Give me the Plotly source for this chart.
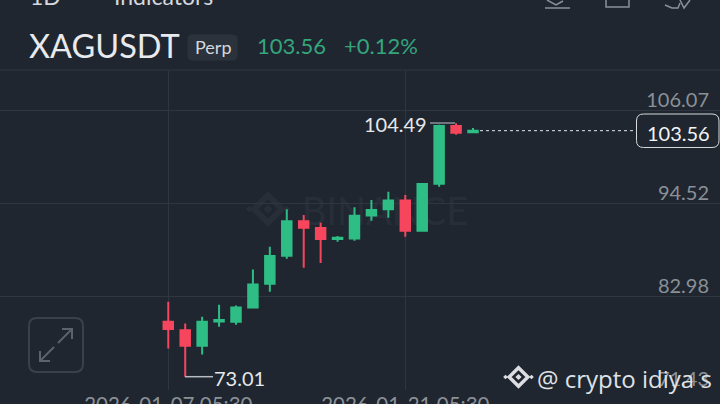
import plotly.graph_objects as go

dates = ["2026-01-%02d 05:30" % d for d in range(7, 26)]
opens = [79.83,78.80,76.85,79.88,79.83,81.62,84.55,88.03,92.31,91.47,90.11,90.19,93.05,93.80,94.91,91.14,96.98,104.14,103.36]
highs = [82.32,79.64,80.46,81.95,81.87,86.34,89.15,93.80,93.09,92.13,90.48,94.05,94.95,95.98,95.57,96.98,104.30,104.49,103.90]
lows = [76.53,73.01,75.78,79.21,79.46,81.50,83.56,87.66,86.54,87.13,89.77,89.90,92.38,92.75,90.39,91.01,96.60,103.06,103.27]
closes = [78.93,76.85,79.83,80.05,81.62,84.48,88.00,92.31,91.51,90.11,90.27,93.00,93.71,94.91,91.14,96.94,104.14,103.31,103.56]
y_ticks = [106.07, 94.52, 82.98, 71.43]
x_ticks = ["2026-01-07 05:30", "2026-01-21 05:30"]
x_tick_labels = ["2026-01-07 05:30", "2026-01-21 05:30"]
symbol = "XAGUSDT"
last_text = "103.56"
change_text = "+0.12%"
high_text = "104.49"
low_text = "73.01"

BG = "#1f2630"; GRID = "#2f363f"; GREEN = "#2ebd85"; RED = "#f6465d"
FONT = "Lato"
T, B = 71, 390

def X(px): return px / 720
def Y(py): return (B - py) / (B - T)

def line(x0, y0, x1, y1, color, width=1, dash="solid"):
    return dict(type="line", xref="paper", yref="paper", x0=X(x0), y0=Y(y0), x1=X(x1), y1=Y(y1),
                line=dict(color=color, width=width, dash=dash), layer="above")

def path(pts, color=None, fill=None, width=1, close=True, layer="above"):
    d = "M " + " L ".join(f"{X(a):.5f},{Y(b):.5f}" for a, b in pts) + (" Z" if close else "")
    return dict(type="path", xref="paper", yref="paper", path=d, line=dict(color=color or "rgba(0,0,0,0)", width=width),
                fillcolor=fill or "rgba(0,0,0,0)", layer=layer)

def rrect(x0, y0, x1, y1, r, color, fill=None, width=1):
    d = (f"M {X(x0+r):.5f},{Y(y0):.5f} L {X(x1-r):.5f},{Y(y0):.5f} Q {X(x1):.5f},{Y(y0):.5f} {X(x1):.5f},{Y(y0+r):.5f} "
         f"L {X(x1):.5f},{Y(y1-r):.5f} Q {X(x1):.5f},{Y(y1):.5f} {X(x1-r):.5f},{Y(y1):.5f} "
         f"L {X(x0+r):.5f},{Y(y1):.5f} Q {X(x0):.5f},{Y(y1):.5f} {X(x0):.5f},{Y(y1-r):.5f} "
         f"L {X(x0):.5f},{Y(y0+r):.5f} Q {X(x0):.5f},{Y(y0):.5f} {X(x0+r):.5f},{Y(y0):.5f} Z")
    return dict(type="path", xref="paper", yref="paper", path=d, line=dict(color=color, width=width),
                fillcolor=fill or "rgba(0,0,0,0)", layer="above")

def diamond(cx, cy, r, **kw):
    return path([(cx, cy - r), (cx + r, cy), (cx, cy + r), (cx - r, cy)], **kw)

def logo(cx, cy, R, color, sw, layer="above"):
    return [
        diamond(cx, cy, R * 0.72, color=color, width=sw, layer=layer),
        diamond(cx, cy, R * 0.24, fill=color, layer=layer),
        diamond(cx - R * 1.0, cy, R * 0.18, fill=color, layer=layer),
        diamond(cx + R * 1.0, cy, R * 0.18, fill=color, layer=layer),
    ]

fig = go.Figure(go.Candlestick(
    x=dates, open=opens, high=highs, low=lows, close=closes,
    increasing=dict(line=dict(color=GREEN, width=2), fillcolor=GREEN),
    decreasing=dict(line=dict(color=RED, width=2), fillcolor=RED),
    whiskerwidth=0, showlegend=False,
))

shapes = [
    line(0, 70, 720, 70, GRID),
    line(430, 123, 455, 123, "#8b9097", 1.5),
    line(185, 376.7, 213, 376.7, "#b8bcc2", 1.5),
    line(480, 130.7, 635, 130.7, "#e4e6e9", 1, "3px,3px"),
    rrect(636.5, 114, 719, 147.5, 7, "#d8dadd", BG, 1),
    rrect(29, 318, 83, 372, 8, "#3a414b", None, 2),
    line(40, 361, 54, 347, "#5d636c", 2), line(58, 343, 72, 329, "#5d636c", 2),
    path([(40, 351), (40, 361), (50, 361)], color="#5d636c", width=2, close=False),
    path([(62, 329), (72, 329), (72, 339)], color="#5d636c", width=2, close=False),
    path([(545, 8), (570, 8)], color="#8c9199", width=1.5, close=False),
    path([(547, 0), (556, 5), (563, 1)], color="#8c9199", width=1.5, close=False),
    path([(606, 0), (606, 7), (629, 7), (629, 0)], color="#8c9199", width=1.5, close=False),
    path([(665, 5), (672, 8), (678, 8), (680, 3)], color="#8c9199", width=1.5, close=False),
    path([(680, 0), (684, 8), (690, 0)], color="#8c9199", width=1.5, close=False),
    rrect(188, 35, 237, 60, 4, "#2b323b", "#2b323b", 1),
    dict(type="rect", xref="paper", yref="paper", x0=X(296), x1=X(474), y0=Y(230), y1=Y(190), layer="below",
         line=dict(width=0), fillcolor="rgba(0,0,0,0)",
         label=dict(text="BINANCE", textposition="middle center", font=dict(family=FONT, size=38, color="#272e38"))),
]
shapes += logo(268, 209, 19, "#272e38", 6, layer="below")
shapes += logo(518.5, 377, 13, "#dcdee1", 3.5)

def text(px, py, s, size, color, anchor="left", family=FONT):
    return dict(xref="paper", yref="paper", x=X(px), y=Y(py), text=s, showarrow=False, xanchor=anchor,
                yanchor="middle", font=dict(family=family, size=size, color=color))

annotations = [
    text(27, 46, symbol, 32.5, "#e8eaed"),
    text(212.5, 47, "Perp", 18, "#d5d8dc", "center"),
    text(255, 45.5, last_text, 22, "#34a57c"),
    text(342, 45.5, change_text, 22, "#34a57c"),
    text(28, -4, "1D", 23, "#d5d8dc"),
    text(112, -4, "Indicators", 23, "#d5d8dc"),
    text(678.5, 132.5, last_text, 20, "#f2f3f4", "center"),
    text(429, 124, high_text, 20, "#e6e8ea", "right"),
    text(212, 378, low_text, 20, "#e6e8ea"),
    text(535, 378, "@ crypto idiya s", 24, "#dfe1e4", family="Open Sans"),
]

fig.update_layout(
    width=720, height=404, margin=dict(l=0, r=0, t=T, b=404 - B),
    paper_bgcolor=BG, plot_bgcolor=BG, showlegend=False, boxgap=0.2,
    shapes=shapes, annotations=annotations, font=dict(family=FONT),
    xaxis=dict(type="date", range=["2025-12-28 06:56", "2026-02-08 19:40"], rangeslider=dict(visible=False),
               automargin=False, tickmode="array", tickvals=x_ticks, ticktext=x_tick_labels, showgrid=True,
               gridcolor=GRID, gridwidth=1, zeroline=False, showline=False, ticks="", tickangle=0, ticklabelstandoff=0,
               tickfont=dict(family=FONT, size=20.5, color="#8b9097")),
    yaxis=dict(side="right", range=[71.37, 110.98], automargin=False, tickmode="array", tickvals=y_ticks,
               ticktext=[f"{v:.2f}" for v in y_ticks], showgrid=True, gridcolor=GRID, gridwidth=1,
               zeroline=False, showline=False, ticks="", ticklabelposition="inside top", ticklabelstandoff=8,
               ticklabelshift=3,
               tickfont=dict(family=FONT, size=20, color="#8b9097")),
)
fig.write_html("out.html", config=dict(displayModeBar=False),
               post_script="document.body.style.margin='0';document.body.style.background='%s';" % BG)
